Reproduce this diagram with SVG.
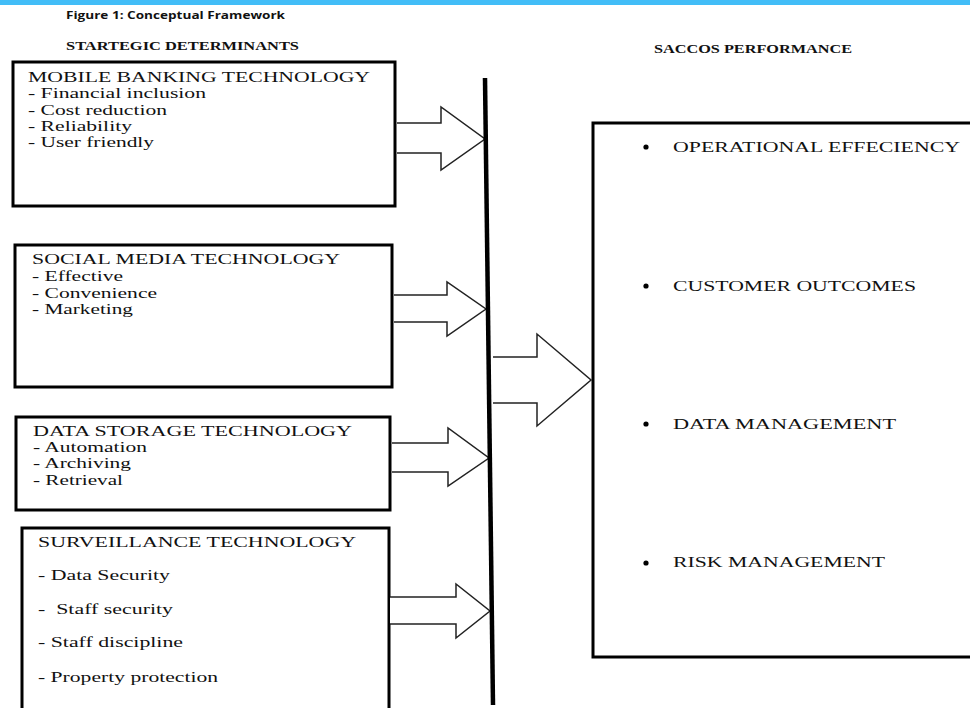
<svg xmlns="http://www.w3.org/2000/svg" width="970" height="708" viewBox="0 0 970 708">
<style>
.box{fill:#fff;stroke:#000;stroke-width:3}
.t{font-family:"Liberation Serif","Times New Roman",serif;font-size:15.5px;fill:#111}
.h{font-family:"Liberation Serif","Times New Roman",serif;font-size:11.5px;font-weight:bold;fill:#111}
.f{font-family:"Open Sans","Liberation Sans",sans-serif;font-size:11px;font-weight:bold;fill:#111}
.arr{fill:#fff;stroke:#222;stroke-width:1.5;stroke-linejoin:miter}
</style>
<rect x="0" y="0" width="970" height="708" fill="#fff"/>
<rect x="0" y="0" width="970" height="5" fill="#42BDF7"/>
<g id="header">
<text class="f" x="66" y="19" textLength="219" lengthAdjust="spacingAndGlyphs">Figure 1: Conceptual Framework</text>
<text class="h" x="66" y="50" textLength="233" lengthAdjust="spacingAndGlyphs">STARTEGIC DETERMINANTS</text>
<text class="h" x="654" y="53" textLength="198" lengthAdjust="spacingAndGlyphs">SACCOS PERFORMANCE</text>
</g>
<g id="mobile">
<rect class="box" x="13" y="62" width="382" height="144"/>
<text class="t" x="28" y="82" textLength="342" lengthAdjust="spacingAndGlyphs">MOBILE BANKING TECHNOLOGY</text>
<text class="t" x="28" y="98" textLength="178" lengthAdjust="spacingAndGlyphs">- Financial inclusion</text>
<text class="t" x="28" y="115" textLength="139" lengthAdjust="spacingAndGlyphs">- Cost reduction</text>
<text class="t" x="28" y="131" textLength="104" lengthAdjust="spacingAndGlyphs">- Reliability</text>
<text class="t" x="28" y="147" textLength="126" lengthAdjust="spacingAndGlyphs">- User friendly</text>
</g>
<g id="social">
<rect class="box" x="15" y="245" width="377" height="142"/>
<text class="t" x="32" y="264" textLength="308" lengthAdjust="spacingAndGlyphs">SOCIAL MEDIA TECHNOLOGY</text>
<text class="t" x="32" y="281" textLength="91" lengthAdjust="spacingAndGlyphs">- Effective</text>
<text class="t" x="32" y="298" textLength="125" lengthAdjust="spacingAndGlyphs">- Convenience</text>
<text class="t" x="32" y="314" textLength="101" lengthAdjust="spacingAndGlyphs">- Marketing</text>
</g>
<g id="datastorage">
<rect class="box" x="16" y="417" width="374" height="93"/>
<text class="t" x="33" y="436" textLength="319" lengthAdjust="spacingAndGlyphs">DATA STORAGE TECHNOLOGY</text>
<text class="t" x="33" y="452" textLength="114" lengthAdjust="spacingAndGlyphs">- Automation</text>
<text class="t" x="33" y="468" textLength="98" lengthAdjust="spacingAndGlyphs">- Archiving</text>
<text class="t" x="33" y="485" textLength="90" lengthAdjust="spacingAndGlyphs">- Retrieval</text>
</g>
<g id="surveillance">
<rect class="box" x="22" y="528" width="367" height="190"/>
<text class="t" x="38" y="547" textLength="318" lengthAdjust="spacingAndGlyphs">SURVEILLANCE TECHNOLOGY</text>
<text class="t" x="38" y="580" textLength="132" lengthAdjust="spacingAndGlyphs">- Data Security</text>
<text class="t" x="38" y="614" xml:space="preserve" textLength="135" lengthAdjust="spacingAndGlyphs">-  Staff security</text>
<text class="t" x="38" y="647" textLength="145" lengthAdjust="spacingAndGlyphs">- Staff discipline</text>
<text class="t" x="38" y="682" textLength="180" lengthAdjust="spacingAndGlyphs">- Property protection</text>
</g>
<g id="performance">
<rect class="box" x="593" y="123" width="390" height="534"/>
<circle cx="646" cy="147" r="2.6" fill="#000"/>
<text class="t" x="673" y="152" textLength="287" lengthAdjust="spacingAndGlyphs">OPERATIONAL EFFECIENCY</text>
<circle cx="646" cy="286" r="2.6" fill="#000"/>
<text class="t" x="673" y="291" textLength="243" lengthAdjust="spacingAndGlyphs">CUSTOMER OUTCOMES</text>
<circle cx="646" cy="424" r="2.6" fill="#000"/>
<text class="t" x="673" y="429" textLength="223" lengthAdjust="spacingAndGlyphs">DATA MANAGEMENT</text>
<circle cx="646" cy="563" r="2.6" fill="#000"/>
<text class="t" x="673" y="567" textLength="212" lengthAdjust="spacingAndGlyphs">RISK MANAGEMENT</text>
</g>
<g id="connectors">
<polyline class="arr" points="397,123 441,123 441,107 485,139 441,170 441,153 397,153"/>
<polyline class="arr" points="394,295 447,295 447,282 486,309 447,336 447,322 394,322"/>
<polyline class="arr" points="392,443 448,443 448,428 489,458 448,486 448,472 392,472"/>
<polyline class="arr" points="390,597 456,597 456,584 490,611 456,638 456,624 390,624"/>
<polyline class="arr" points="493,357 537,357 537,334 591,380 537,426 537,403 493,403"/>
<line x1="485" y1="78" x2="493" y2="705" stroke="#000" stroke-width="4.5"/>
</g>
</svg>
